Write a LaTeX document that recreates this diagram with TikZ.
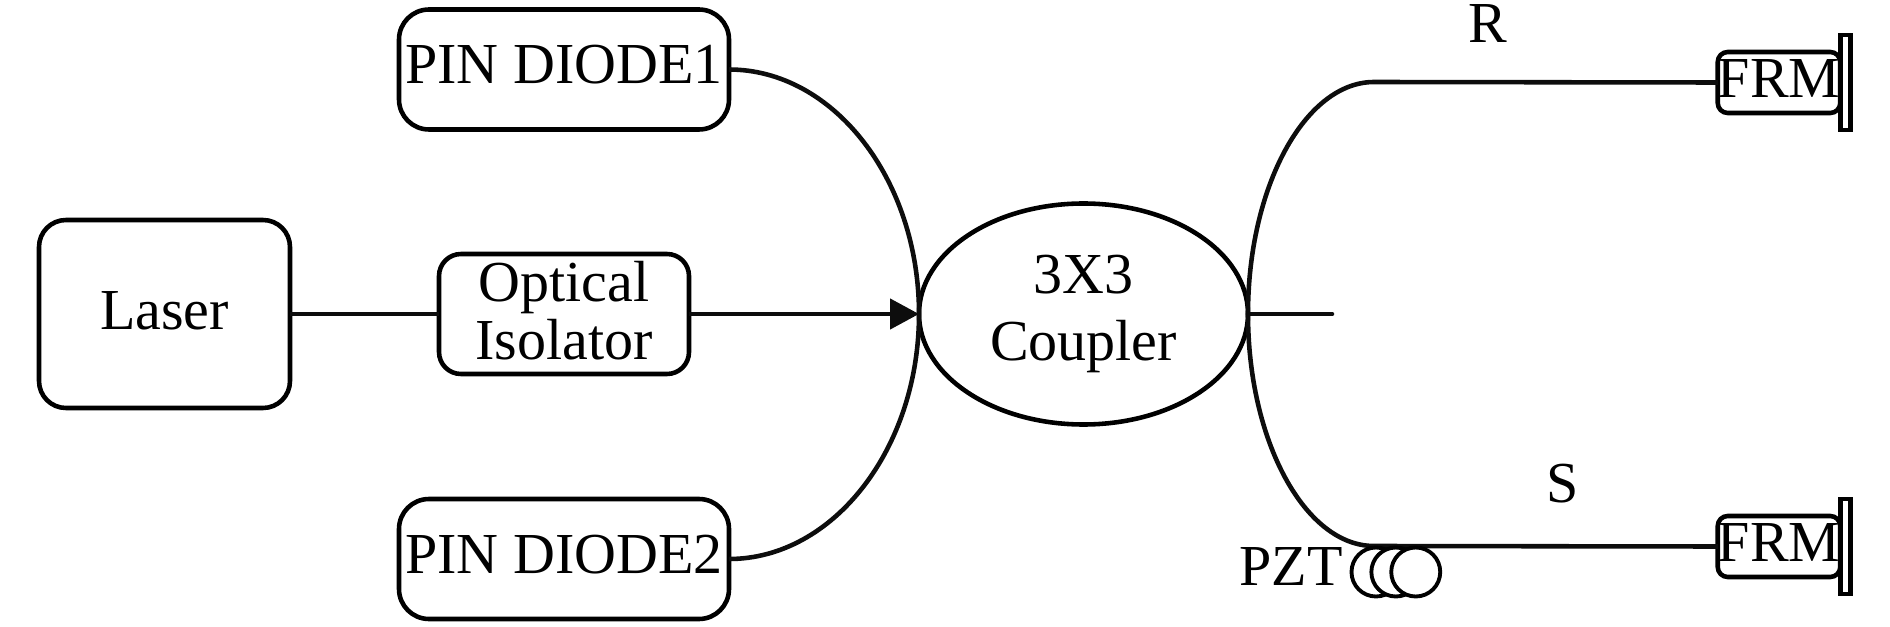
\documentclass[tikz,border=0pt]{standalone}
\usepackage{fontspec}
\setmainfont{Liberation Serif}
\usetikzlibrary{positioning, arrows.meta, shapes.geometric}
\tikzset{
    fiber/.style={line width=1.3pt, black!95},
    part/.style={draw, line width=1.3pt, rounded corners=0.27cm, inner sep=0pt, outer sep=0pt, align=center, font=\fontsize{16.5}{16.5}\selectfont},
    pin/.style={part, minimum width=3.3cm, minimum height=1.2cm, rounded corners=0.3cm, text depth=0.1cm},
    frm/.style={part, minimum width=1.17cm, minimum height=0.61cm, rounded corners=0.1cm, text depth=0.08cm},
    mirror/.style={draw, line width=1.3pt, inner sep=0pt, outer sep=0pt, minimum width=0.1cm, minimum height=0.95cm},
    coil/.style={draw, fill=white, circle, line width=1.1pt, inner sep=0pt, minimum size=0.49cm},
    tag/.style={inner sep=0pt, font=\fontsize{16.5}{16.5}\selectfont}
}
\begin{document}
\begin{tikzpicture}
    \useasboundingbox (0,0) rectangle (18.9,6.26);
    \node (Laser) [part, minimum width=2.51cm, minimum height=1.88cm, text depth=0.07cm] at (1.645,3.12) {Laser};
    \node (Isolator) [part, minimum width=2.5cm, minimum height=1.2cm, rounded corners=0.22cm, text depth=0.08cm, right=1.49cm of Laser] {Optical\\Isolator};
    \node (Coupler) [draw, ellipse, line width=1.3pt, inner sep=0pt, outer sep=0pt, minimum width=3.29cm, minimum height=2.21cm, right=2.3cm of Isolator, align=center, font=\fontsize{16.5}{19}\selectfont] {3X3\\Coupler};
    \node (Diode1) [pin, above=1.245cm of Isolator] {PIN DIODE1};
    \node (Diode2) [pin, below=1.25cm of Isolator] {PIN DIODE2};
    \node (FRMr) [frm] at (17.79,5.435) {FRM};
    \node (FRMs) [frm] at (17.79,0.795) {FRM};
    \node (Mirrorr) [mirror, right=0cm of FRMr] {};
    \node (Mirrors) [mirror, right=0cm of FRMs] {};
    % Bends of the two arms
    \coordinate (Rbend) at (13.74,5.44);
    \coordinate (Sbend) at (13.74,0.80);
    \coordinate (Stub) at (13.32,3.12);
    % Input side
    \draw [fiber] (Laser) -- (Isolator);
    \draw [fiber, -{Triangle[length=0.29cm, width=0.3cm]}] (Isolator) -- (Coupler.west);
    \draw [fiber] (Diode1.east) .. controls +(1.04,0) and +(0,1.35) .. (Coupler.west);
    \draw [fiber] (Diode2.east) .. controls +(1.04,0) and +(0,-1.35) .. (Coupler.west);
    % Output side
    \draw [fiber] (Coupler.east) .. controls +(0,1.27) and +(-0.69,0) .. (Rbend) -- (FRMr.west);
    \draw [fiber] (Coupler.east) .. controls +(0,-1.27) and +(-0.69,0) .. (Sbend) -- (FRMs.west);
    \draw [fiber, line cap=round] (Coupler.east) -- (Stub);
    % Coil under the lower arm
    \node (CoilA) [coil] at (13.76,0.54) {};
    \node (CoilB) [coil, right=-0.33cm of CoilA] {};
    \node (CoilC) [coil, right=-0.33cm of CoilB] {};
    % Labels
    \node (PZT) [tag] at (12.91,0.59) {PZT};
    \node (R) [tag] at (14.88,6.02) {R};
    \node (S) [tag] at (15.63,1.42) {S};
\end{tikzpicture}
\end{document}
